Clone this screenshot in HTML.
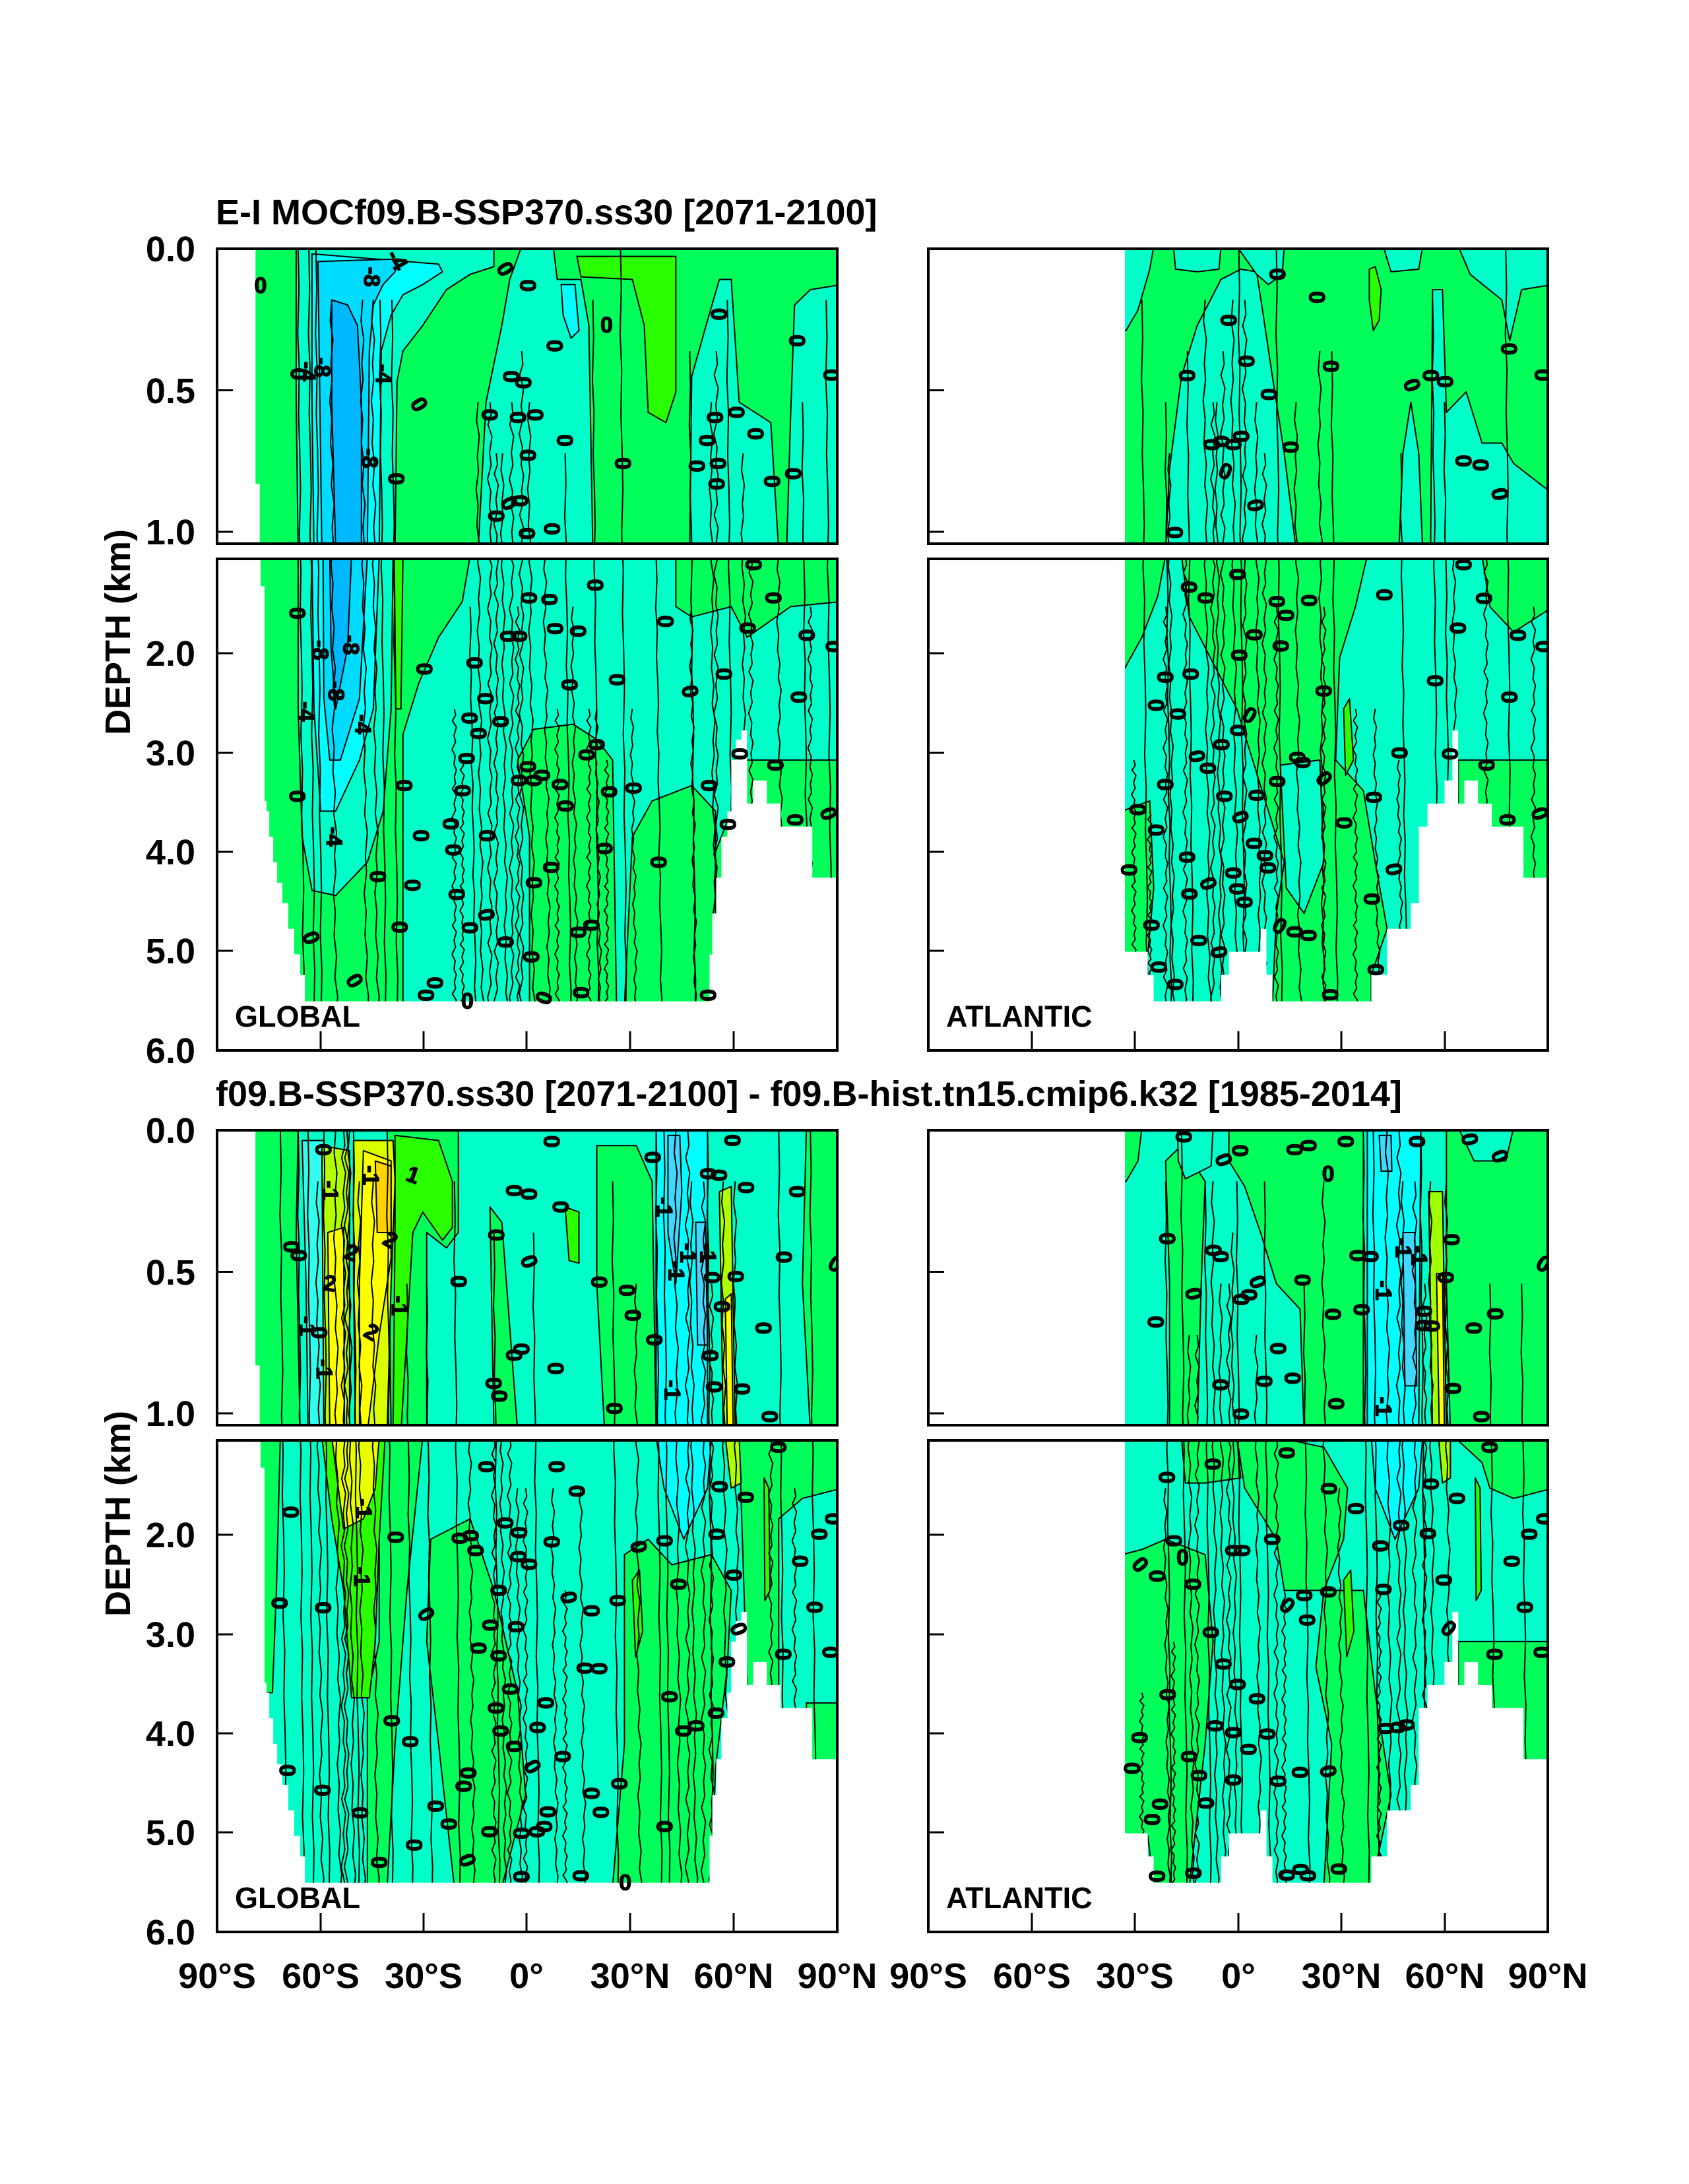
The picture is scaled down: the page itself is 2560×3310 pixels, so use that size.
<!DOCTYPE html>
<html><head><meta charset="utf-8">
<style>
html,body{margin:0;padding:0;background:#fff;width:2560px;height:3310px;overflow:hidden;}
svg{display:block}
.t{font-family:"Liberation Sans",Arial,sans-serif;font-weight:bold;fill:#000}
.z{font-family:"Liberation Sans",Arial,sans-serif;font-weight:bold;font-size:34px;text-anchor:middle;dominant-baseline:central;fill:#000;stroke:#000;stroke-width:1.3}
.p{stroke:#000;stroke-width:2;vector-effect:non-scaling-stroke;stroke-linejoin:round}
</style></head>
<body>
<svg width="2560" height="3310" viewBox="0 0 2560 3310" xmlns="http://www.w3.org/2000/svg">
<defs>
<clipPath id="cpG"><path d="M97,0 H1568 V577 H108 V460 H97 Z M110,606 H1568 V1230 H1505 V1130 H1425 V1085 H1390 V1040 H1355 V1085 H1340 V942 H1325 V960 H1312 V1000 H1300 V1100 H1290 V1150 H1275 V1230 H1262 V1300 H1252 V1380 H1245 V1472 H222 V1420 H210 V1380 H195 V1330 H180 V1280 H165 V1240 H152 V1200 H142 V1150 H132 V1100 H125 V1080 H120 V660 H110 Z"/></clipPath>
<clipPath id="cpA"><path d="M497,0 H1568 V577 H497 Z M497,606 H1568 V1230 H1505 V1130 H1425 V1085 H1390 V1040 H1355 V1085 H1340 V942 H1325 V1040 H1305 V1085 H1262 V1130 H1240 V1280 H1220 V1330 H1160 V1420 H1120 V1472 H870 V1420 H855 V1330 H840 V1375 H760 V1420 H740 V1472 H570 V1420 H555 V1375 H497 Z"/></clipPath>
<path id="zz1" fill="none" stroke="#000" stroke-width="2" vector-effect="non-scaling-stroke" d="M0,0l-4,45 7,40-5,50 3,35-6,45 5,40-3,50 6,45-4,45 7,40-5,50 3,35-6,45 5,40-3,50 6,45-4,45 7,40-5,50 3,35-6,45 5,40-3,50 6,45-4,45 7,40-5,50 3,35-6,45 5,40-3,50 6,45-4,45 7,40-5,50 3,35-1,30"/>
<path id="zz2" fill="none" stroke="#000" stroke-width="2" vector-effect="non-scaling-stroke" d="M0,0l3,30-8,25 10,30-6,40 4,30-9,35 8,30-3,40 6,25-5,35 3,30-8,25 10,30-6,40 4,30-9,35 8,30-3,40 6,25-5,35 3,30-8,25 10,30-6,40 4,30-9,35 8,30-3,40 6,25-5,35 3,30-8,25 10,30-6,40 4,30-9,35 8,30-3,40 6,25-5,35 3,30-8,25 10,30-6,40 4,30-9,35 8,30-3,40 6,25-5,35"/>
<path id="zz3" fill="none" stroke="#000" stroke-width="2" vector-effect="non-scaling-stroke" d="M0,0l2,80-3,90 4,70-2,90 3,70 2,80-3,90 4,70-2,90 3,70 2,80-3,90 4,70-2,90 3,70 2,80-3,90 4,70-2,90 3,70"/>
</defs>

<!-- ================= PANEL A : top-left GLOBAL ================= -->
<svg x="329" y="377" width="940" height="1215" viewBox="0 0 1568 1568" preserveAspectRatio="none">
<g clip-path="url(#cpG)">
<rect x="0" y="0" width="1568" height="1568" fill="#00ff5a"/>
<path class="p" fill="#00ffc8" d="M200,-5 L700,-5 L700,35 L640,50 L580,80 L520,150 L470,200 L455,260 L450,590 L205,590 L200,300 Z"/>
<path class="p" fill="#00ffff" d="M240,10 L560,30 L570,45 L520,70 L470,90 L440,130 L415,200 L410,590 L245,590 L240,300 Z"/>
<path class="p" fill="#00dcff" d="M255,25 L460,20 L450,45 L420,70 L395,110 L385,200 L380,590 L265,590 L260,300 Z"/>
<path class="p" fill="#00b8ff" d="M290,100 L330,110 L355,150 L365,300 L365,590 L300,590 L290,300 Z"/>
<path class="p" fill="#00ffc8" d="M660,590 L680,300 L720,150 L740,60 L770,-5 L850,-5 L860,60 L920,60 L940,150 L950,590 Z"/>
<path class="p" fill="#00ffff" d="M870,70 L905,70 L915,160 L895,175 L875,130 Z"/>
<path class="p" fill="#2aff00" d="M910,15 L1160,15 L1160,280 L1135,340 L1090,320 L1080,150 L1050,60 L920,55 Z"/>
<path class="p" fill="#00ffc8" d="M1195,590 L1200,250 L1240,140 L1270,60 L1300,60 L1320,300 L1400,340 L1420,590 Z"/>
<path class="p" fill="#00ffc8" d="M1440,590 L1450,330 L1460,110 L1500,80 L1580,70 L1580,590 Z"/>
<path class="p" fill="#00ffc8" d="M470,1480 L470,950 L510,850 L560,760 L620,690 L640,600 L1580,600 L1580,1000 L1420,1000 L1330,1000 L1300,1100 L1250,1200 L1250,1480 Z"/>
<path class="p" fill="#00ff5a" d="M790,1480 L790,1150 L760,1000 L800,940 L900,930 L960,960 L1000,1000 L1010,1480 Z"/>
<path class="p" fill="#00ff5a" d="M1030,1480 L1050,1150 L1100,1080 L1200,1050 L1260,1100 L1260,1480 Z"/>
<path class="p" fill="#00ff5a" d="M1160,600 L1580,600 L1580,690 L1450,700 L1340,760 L1300,700 L1200,720 L1160,700 Z"/>
<path class="p" fill="#00ffc8" d="M205,600 L445,600 L440,900 L420,1100 L380,1200 L300,1265 L240,1255 L215,1150 L205,900 Z"/>
<path class="p" fill="#00ffff" d="M240,600 L410,600 L395,900 L360,1000 L300,1100 L262,1100 L245,900 Z"/>
<path class="p" fill="#00dcff" d="M268,600 L380,600 L360,880 L312,1000 L285,1000 L270,880 Z"/>
<path class="p" fill="#00b8ff" d="M285,600 L340,600 L330,780 L300,900 L288,780 Z"/>
<path class="p" fill="#2aff00" d="M448,600 L470,600 L465,900 L452,900 Z"/>
<g transform="translate(0 0) scale(1 0.98)"><use href="#zz3" x="205"/><use href="#zz3" x="232"/><use href="#zz3" x="250"/><use href="#zz3" x="1020"/></g>
<g transform="translate(0 100) scale(1 0.9175)"><use href="#zz3" x="412"/><use href="#zz3" x="442"/><use href="#zz3" x="950"/><use href="#zz3" x="1290"/><use href="#zz3" x="1540"/><use href="#zz1" x="290"/><use href="#zz1" x="368"/><use href="#zz1" x="395"/></g>
<g transform="translate(0 200) scale(1 0.855)"><use href="#zz3" x="1195"/><use href="#zz2" x="770"/><use href="#zz2" x="1262"/></g>
<g transform="translate(0 300) scale(1 0.7925)"><use href="#zz3" x="1480"/><use href="#zz1" x="660"/><use href="#zz1" x="790"/><use href="#zz1" x="1250"/><use href="#zz2" x="690"/><use href="#zz2" x="745"/></g>
<g transform="translate(0 400) scale(1 0.73)"><use href="#zz3" x="880"/><use href="#zz1" x="722"/><use href="#zz1" x="1330"/><use href="#zz2" x="706"/></g>
<g transform="translate(0 600) scale(1 0.605)"><use href="#zz3" x="1110"/><use href="#zz1" x="830"/><use href="#zz1" x="1420"/><use href="#zz2" x="1350"/></g>
<g transform="translate(0 700) scale(1 0.5425)"><use href="#zz3" x="640"/><use href="#zz1" x="900"/><use href="#zz1" x="1200"/><use href="#zz2" x="760"/><use href="#zz2" x="1500"/></g>
<g transform="translate(0 900) scale(1 0.4175)"><use href="#zz1" x="960"/><use href="#zz1" x="1050"/><use href="#zz2" x="600"/><use href="#zz2" x="860"/><use href="#zz2" x="940"/></g>
<g transform="translate(0 1000) scale(1 0.355)"><use href="#zz2" x="620"/><use href="#zz2" x="985"/></g>
</g>
<g class="z">
<text transform="translate(110 72)scale(1.668 1.29)">0</text>
<text transform="translate(728 40)scale(1.668 1.29)rotate(60)">0</text>
<text transform="translate(785 72)scale(1.668 1.29)rotate(90)">0</text>
<text transform="translate(852 190)scale(1.668 1.29)rotate(90)">0</text>
<text transform="translate(985 150)scale(1.668 1.29)">0</text>
<text transform="translate(1268 128)scale(1.668 1.29)rotate(90)">0</text>
<text transform="translate(1465 180)scale(1.668 1.29)rotate(90)">0</text>
<text transform="translate(1552 247)scale(1.668 1.29)rotate(90)">0</text>
<text transform="translate(742 250)scale(1.668 1.29)rotate(90)">0</text>
<text transform="translate(773 262)scale(1.668 1.29)rotate(90)">0</text>
<text transform="translate(510 305)scale(1.668 1.29)rotate(60)">0</text>
<text transform="translate(688 325)scale(1.668 1.29)rotate(90)">0</text>
<text transform="translate(760 330)scale(1.668 1.29)rotate(90)">0</text>
<text transform="translate(803 325)scale(1.668 1.29)rotate(90)">0</text>
<text transform="translate(878 375)scale(1.668 1.29)rotate(90)">0</text>
<text transform="translate(785 404)scale(1.668 1.29)rotate(90)">0</text>
<text transform="translate(1025 420)scale(1.668 1.29)rotate(90)">0</text>
<text transform="translate(1212 425)scale(1.668 1.29)rotate(90)">0</text>
<text transform="translate(1265 420)scale(1.668 1.29)rotate(90)">0</text>
<text transform="translate(1262 460)scale(1.668 1.29)rotate(90)">0</text>
<text transform="translate(1238 375)scale(1.668 1.29)rotate(90)">0</text>
<text transform="translate(1258 330)scale(1.668 1.29)rotate(90)">0</text>
<text transform="translate(1312 320)scale(1.668 1.29)rotate(90)">0</text>
<text transform="translate(1360 362)scale(1.668 1.29)rotate(90)">0</text>
<text transform="translate(1402 455)scale(1.668 1.29)rotate(90)">0</text>
<text transform="translate(1455 440)scale(1.668 1.29)rotate(90)">0</text>
<text transform="translate(452 450)scale(1.668 1.29)rotate(90)">0</text>
<text transform="translate(705 523)scale(1.668 1.29)rotate(90)">0</text>
<text transform="translate(738 498)scale(1.668 1.29)rotate(60)">0</text>
<text transform="translate(765 493)scale(1.668 1.29)rotate(90)">0</text>
<text transform="translate(782 557)scale(1.668 1.29)rotate(90)">0</text>
<text transform="translate(846 548)scale(1.668 1.29)rotate(90)">0</text>
<text transform="translate(205 245)scale(1.668 1.29)rotate(90)">0</text>
<text transform="translate(455 22)scale(1.668 1.29)rotate(60)">-4</text>
<text transform="translate(390 55)scale(1.668 1.29)rotate(90)">-8</text>
<text transform="translate(228 240)scale(1.668 1.29)rotate(90)">-4</text>
<text transform="translate(265 232)scale(1.668 1.29)rotate(90)">-8</text>
<text transform="translate(420 245)scale(1.668 1.29)rotate(90)">-4</text>
<text transform="translate(385 410)scale(1.668 1.29)rotate(90)">-8</text>
<text transform="translate(260 785)scale(1.668 1.29)rotate(90)">-8</text>
<text transform="translate(338 775)scale(1.668 1.29)rotate(90)">-8</text>
<text transform="translate(300 865)scale(1.668 1.29)rotate(90)">-8</text>
<text transform="translate(225 905)scale(1.668 1.29)rotate(90)">-4</text>
<text transform="translate(368 930)scale(1.668 1.29)rotate(90)">-4</text>
<text transform="translate(295 1150)scale(1.668 1.29)rotate(90)">-4</text>
<text transform="translate(1355 618)scale(1.668 1.29)rotate(90)">0</text>
<text transform="translate(955 658)scale(1.668 1.29)rotate(90)">0</text>
<text transform="translate(787 683)scale(1.668 1.29)rotate(90)">0</text>
<text transform="translate(839 686)scale(1.668 1.29)rotate(90)">0</text>
<text transform="translate(1405 683)scale(1.668 1.29)rotate(90)">0</text>
<text transform="translate(1133 729)scale(1.668 1.29)rotate(90)">0</text>
<text transform="translate(1340 742)scale(1.668 1.29)rotate(90)">0</text>
<text transform="translate(853 743)scale(1.668 1.29)rotate(90)">0</text>
<text transform="translate(912 748)scale(1.668 1.29)rotate(90)">0</text>
<text transform="translate(735 758)scale(1.668 1.29)rotate(90)">0</text>
<text transform="translate(762 758)scale(1.668 1.29)rotate(90)">0</text>
<text transform="translate(1490 756)scale(1.668 1.29)rotate(90)">0</text>
<text transform="translate(1558 778)scale(1.668 1.29)rotate(90)">0</text>
<text transform="translate(202 713)scale(1.668 1.29)rotate(90)">0</text>
<text transform="translate(523 822)scale(1.668 1.29)rotate(90)">0</text>
<text transform="translate(650 810)scale(1.668 1.29)rotate(90)">0</text>
<text transform="translate(1280 832)scale(1.668 1.29)rotate(90)">0</text>
<text transform="translate(1010 843)scale(1.668 1.29)rotate(90)">0</text>
<text transform="translate(890 853)scale(1.668 1.29)rotate(90)">0</text>
<text transform="translate(1195 866)scale(1.668 1.29)rotate(80)">0</text>
<text transform="translate(1470 877)scale(1.668 1.29)rotate(90)">0</text>
<text transform="translate(677 880)scale(1.668 1.29)rotate(90)">0</text>
<text transform="translate(637 918)scale(1.668 1.29)rotate(90)">0</text>
<text transform="translate(716 925)scale(1.668 1.29)rotate(90)">0</text>
<text transform="translate(660 948)scale(1.668 1.29)rotate(90)">0</text>
<text transform="translate(958 970)scale(1.668 1.29)rotate(90)">0</text>
<text transform="translate(933 990)scale(1.668 1.29)rotate(90)">0</text>
<text transform="translate(630 997)scale(1.668 1.29)rotate(90)">0</text>
<text transform="translate(1320 988)scale(1.668 1.29)rotate(90)">0</text>
<text transform="translate(1410 1010)scale(1.668 1.29)rotate(90)">0</text>
<text transform="translate(785 1013)scale(1.668 1.29)rotate(90)">0</text>
<text transform="translate(820 1030)scale(1.668 1.29)rotate(90)">0</text>
<text transform="translate(762 1040)scale(1.668 1.29)rotate(90)">0</text>
<text transform="translate(800 1040)scale(1.668 1.29)rotate(90)">0</text>
<text transform="translate(866 1048)scale(1.668 1.29)rotate(90)">0</text>
<text transform="translate(990 1062)scale(1.668 1.29)rotate(90)">0</text>
<text transform="translate(1052 1055)scale(1.668 1.29)rotate(90)">0</text>
<text transform="translate(1243 1050)scale(1.668 1.29)rotate(90)">0</text>
<text transform="translate(472 1050)scale(1.668 1.29)rotate(90)">0</text>
<text transform="translate(620 1060)scale(1.668 1.29)rotate(90)">0</text>
<text transform="translate(202 1071)scale(1.668 1.29)rotate(90)">0</text>
<text transform="translate(880 1090)scale(1.668 1.29)rotate(90)">0</text>
<text transform="translate(1460 1117)scale(1.668 1.29)rotate(90)">0</text>
<text transform="translate(1545 1105)scale(1.668 1.29)rotate(70)">0</text>
<text transform="translate(1290 1126)scale(1.668 1.29)rotate(90)">0</text>
<text transform="translate(590 1125)scale(1.668 1.29)rotate(90)">0</text>
<text transform="translate(515 1148)scale(1.668 1.29)rotate(90)">0</text>
<text transform="translate(681 1148)scale(1.668 1.29)rotate(90)">0</text>
<text transform="translate(596 1176)scale(1.668 1.29)rotate(90)">0</text>
<text transform="translate(978 1173)scale(1.668 1.29)rotate(90)">0</text>
<text transform="translate(1115 1200)scale(1.668 1.29)rotate(90)">0</text>
<text transform="translate(843 1210)scale(1.668 1.29)rotate(90)">0</text>
<text transform="translate(405 1228)scale(1.668 1.29)rotate(90)">0</text>
<text transform="translate(493 1245)scale(1.668 1.29)rotate(90)">0</text>
<text transform="translate(800 1240)scale(1.668 1.29)rotate(90)">0</text>
<text transform="translate(605 1263)scale(1.668 1.29)rotate(90)">0</text>
<text transform="translate(680 1303)scale(1.668 1.29)rotate(80)">0</text>
<text transform="translate(638 1328)scale(1.668 1.29)rotate(90)">0</text>
<text transform="translate(460 1327)scale(1.668 1.29)rotate(90)">0</text>
<text transform="translate(945 1323)scale(1.668 1.29)rotate(90)">0</text>
<text transform="translate(912 1337)scale(1.668 1.29)rotate(90)">0</text>
<text transform="translate(728 1356)scale(1.668 1.29)rotate(90)">0</text>
<text transform="translate(793 1385)scale(1.668 1.29)rotate(90)">0</text>
<text transform="translate(237 1348)scale(1.668 1.29)rotate(70)">0</text>
<text transform="translate(347 1432)scale(1.668 1.29)rotate(60)">0</text>
<text transform="translate(550 1436)scale(1.668 1.29)rotate(90)">0</text>
<text transform="translate(527 1460)scale(1.668 1.29)rotate(90)">0</text>
<text transform="translate(825 1465)scale(1.668 1.29)rotate(110)">0</text>
<text transform="translate(919 1455)scale(1.668 1.29)rotate(90)">0</text>
<text transform="translate(1240 1460)scale(1.668 1.29)rotate(90)">0</text>
<text transform="translate(633 1472)scale(1.668 1.29)">0</text>
</g>
</svg>

<!-- ================= PANEL B : top-right ATLANTIC ================= -->
<svg x="1407" y="377" width="940" height="1215" viewBox="0 0 1568 1568" preserveAspectRatio="none">
<g clip-path="url(#cpA)">
<rect x="0" y="0" width="1568" height="1568" fill="#00ff5a"/>
<path class="p" fill="#00ffc8" d="M490,-5 L570,-5 L560,40 L530,120 L500,160 L490,160 Z"/>
<path class="p" fill="#00ffc8" d="M600,590 L610,430 L640,250 L680,150 L740,60 L790,40 L830,45 L845,120 L870,250 L900,400 L930,590 Z"/>
<path class="p" fill="#00ffc8" d="M620,-5 L740,-5 L735,40 L680,45 L625,40 Z"/>
<path class="p" fill="#00ffc8" d="M780,-5 L900,-5 L895,50 L860,70 L830,50 Z"/>
<path class="p" fill="#00ffc8" d="M1150,-5 L1250,-5 L1240,40 L1170,45 Z"/>
<path class="p" fill="#00ffc8" d="M1190,590 L1200,400 L1220,300 L1240,400 L1250,590 Z"/>
<path class="p" fill="#00ffc8" d="M1270,590 L1275,80 L1300,80 L1310,320 L1360,280 L1400,380 L1450,380 L1480,420 L1580,480 L1580,590 Z"/>
<path class="p" fill="#00ffc8" d="M1340,-5 L1580,-5 L1580,70 L1500,80 L1470,180 L1450,100 L1370,50 Z"/>
<path class="p" fill="#2aff00" d="M1115,40 L1130,35 L1145,80 L1140,140 L1125,160 L1115,100 Z"/>
<rect x="0" y="600" width="1568" height="968" fill="#00ffc8"/>
<path class="p" fill="#00ff5a" d="M490,600 L600,600 L580,680 L540,760 L490,830 Z"/>
<path class="p" fill="#00ff5a" d="M640,600 L1110,600 L1080,700 L1040,800 L1030,1000 L1100,1060 L1130,1200 L1160,1330 L1120,1420 L1120,1480 L870,1480 L880,1300 L900,1200 L860,1100 L820,1000 L780,900 L700,780 L660,720 Z"/>
<path class="p" fill="#00ffc8" d="M890,1010 L990,1000 L1000,1200 L950,1300 L905,1250 Z"/>
<path class="p" fill="#00ff5a" d="M490,1100 L560,1080 L570,1250 L555,1380 L490,1380 Z"/>
<path class="p" fill="#00ff5a" d="M1400,600 L1580,600 L1580,700 L1480,750 L1420,700 Z"/>
<path class="p" fill="#00ff5a" d="M1340,1000 L1580,1000 L1580,1240 L1340,1240 Z"/>
<path class="p" fill="#2aff00" d="M1050,900 L1065,880 L1075,1000 L1055,1030 Z"/>
<g transform="translate(0 0) scale(1 0.98)"><use href="#zz3" x="785"/><use href="#zz3" x="880"/><use href="#zz3" x="1460"/></g>
<g transform="translate(0 100) scale(1 0.9175)"><use href="#zz3" x="540"/><use href="#zz3" x="1275"/><use href="#zz1" x="700"/><use href="#zz1" x="770"/><use href="#zz2" x="800"/></g>
<g transform="translate(0 200) scale(1 0.855)"><use href="#zz3" x="655"/><use href="#zz3" x="1020"/><use href="#zz1" x="990"/><use href="#zz2" x="745"/></g>
<g transform="translate(0 300) scale(1 0.7925)"><use href="#zz3" x="600"/><use href="#zz3" x="1305"/><use href="#zz1" x="730"/><use href="#zz1" x="830"/><use href="#zz1" x="930"/><use href="#zz2" x="720"/></g>
<g transform="translate(0 400) scale(1 0.73)"><use href="#zz3" x="1195"/><use href="#zz1" x="610"/><use href="#zz2" x="850"/></g>
<g transform="translate(0 600) scale(1 0.605)"><use href="#zz1" x="1330"/><use href="#zz2" x="650"/><use href="#zz2" x="1410"/></g>
<g transform="translate(0 700) scale(1 0.5425)"><use href="#zz2" x="600"/><use href="#zz2" x="880"/><use href="#zz2" x="1000"/><use href="#zz2" x="1530"/></g>
<g transform="translate(0 900) scale(1 0.4175)"><use href="#zz1" x="1130"/><use href="#zz2" x="1080"/></g>
<g transform="translate(0 1000) scale(1 0.355)"><use href="#zz1" x="1190"/><use href="#zz2" x="520"/></g>
<g transform="translate(0 1100) scale(1 0.2925)"><use href="#zz2" x="560"/></g>
</g>
<g class="z">
<text transform="translate(882 50)scale(1.668 1.29)rotate(90)">0</text>
<text transform="translate(982 95)scale(1.668 1.29)rotate(90)">0</text>
<text transform="translate(758 140)scale(1.668 1.29)rotate(90)">0</text>
<text transform="translate(803 220)scale(1.668 1.29)rotate(90)">0</text>
<text transform="translate(1017 230)scale(1.668 1.29)rotate(90)">0</text>
<text transform="translate(653 248)scale(1.668 1.29)rotate(90)">0</text>
<text transform="translate(1269 248)scale(1.668 1.29)rotate(90)">0</text>
<text transform="translate(1305 260)scale(1.668 1.29)rotate(90)">0</text>
<text transform="translate(1222 267)scale(1.668 1.29)rotate(70)">0</text>
<text transform="translate(1467 196)scale(1.668 1.29)rotate(90)">0</text>
<text transform="translate(1552 247)scale(1.668 1.29)rotate(90)">0</text>
<text transform="translate(860 285)scale(1.668 1.29)rotate(90)">0</text>
<text transform="translate(716 383)scale(1.668 1.29)rotate(90)">0</text>
<text transform="translate(740 377)scale(1.668 1.29)rotate(90)">0</text>
<text transform="translate(770 383)scale(1.668 1.29)rotate(90)">0</text>
<text transform="translate(790 367)scale(1.668 1.29)rotate(90)">0</text>
<text transform="translate(915 388)scale(1.668 1.29)rotate(90)">0</text>
<text transform="translate(751 436)scale(1.668 1.29)rotate(20)">0</text>
<text transform="translate(1352 415)scale(1.668 1.29)rotate(90)">0</text>
<text transform="translate(1395 423)scale(1.668 1.29)rotate(90)">0</text>
<text transform="translate(1444 480)scale(1.668 1.29)rotate(80)">0</text>
<text transform="translate(826 502)scale(1.668 1.29)rotate(80)">0</text>
<text transform="translate(622 555)scale(1.668 1.29)rotate(90)">0</text>
<text transform="translate(1352 618)scale(1.668 1.29)rotate(90)">0</text>
<text transform="translate(781 637)scale(1.668 1.29)rotate(90)">0</text>
<text transform="translate(658 662)scale(1.668 1.29)rotate(90)">0</text>
<text transform="translate(700 683)scale(1.668 1.29)rotate(90)">0</text>
<text transform="translate(880 690)scale(1.668 1.29)rotate(90)">0</text>
<text transform="translate(962 688)scale(1.668 1.29)rotate(90)">0</text>
<text transform="translate(1152 677)scale(1.668 1.29)rotate(90)">0</text>
<text transform="translate(1404 684)scale(1.668 1.29)rotate(90)">0</text>
<text transform="translate(903 717)scale(1.668 1.29)rotate(90)">0</text>
<text transform="translate(823 755)scale(1.668 1.29)rotate(90)">0</text>
<text transform="translate(1338 742)scale(1.668 1.29)rotate(90)">0</text>
<text transform="translate(1490 756)scale(1.668 1.29)rotate(90)">0</text>
<text transform="translate(1555 778)scale(1.668 1.29)rotate(90)">0</text>
<text transform="translate(890 777)scale(1.668 1.29)rotate(90)">0</text>
<text transform="translate(785 795)scale(1.668 1.29)rotate(90)">0</text>
<text transform="translate(598 838)scale(1.668 1.29)rotate(90)">0</text>
<text transform="translate(662 832)scale(1.668 1.29)rotate(90)">0</text>
<text transform="translate(1280 845)scale(1.668 1.29)rotate(90)">0</text>
<text transform="translate(998 865)scale(1.668 1.29)rotate(90)">0</text>
<text transform="translate(575 893)scale(1.668 1.29)rotate(90)">0</text>
<text transform="translate(630 910)scale(1.668 1.29)rotate(90)">0</text>
<text transform="translate(812 913)scale(1.668 1.29)rotate(30)">0</text>
<text transform="translate(1468 877)scale(1.668 1.29)rotate(90)">0</text>
<text transform="translate(782 942)scale(1.668 1.29)rotate(90)">0</text>
<text transform="translate(740 970)scale(1.668 1.29)rotate(90)">0</text>
<text transform="translate(1190 986)scale(1.668 1.29)rotate(90)">0</text>
<text transform="translate(1318 988)scale(1.668 1.29)rotate(90)">0</text>
<text transform="translate(678 993)scale(1.668 1.29)rotate(80)">0</text>
<text transform="translate(932 995)scale(1.668 1.29)rotate(90)">0</text>
<text transform="translate(945 1005)scale(1.668 1.29)rotate(90)">0</text>
<text transform="translate(706 1016)scale(1.668 1.29)rotate(90)">0</text>
<text transform="translate(1410 1010)scale(1.668 1.29)rotate(90)">0</text>
<text transform="translate(1000 1037)scale(1.668 1.29)rotate(50)">0</text>
<text transform="translate(598 1048)scale(1.668 1.29)rotate(90)">0</text>
<text transform="translate(881 1042)scale(1.668 1.29)rotate(90)">0</text>
<text transform="translate(747 1071)scale(1.668 1.29)rotate(90)">0</text>
<text transform="translate(829 1069)scale(1.668 1.29)rotate(90)">0</text>
<text transform="translate(1125 1073)scale(1.668 1.29)rotate(90)">0</text>
<text transform="translate(788 1112)scale(1.668 1.29)rotate(70)">0</text>
<text transform="translate(1050 1123)scale(1.668 1.29)rotate(90)">0</text>
<text transform="translate(1463 1117)scale(1.668 1.29)rotate(90)">0</text>
<text transform="translate(1545 1105)scale(1.668 1.29)rotate(70)">0</text>
<text transform="translate(528 1097)scale(1.668 1.29)rotate(90)">0</text>
<text transform="translate(575 1137)scale(1.668 1.29)rotate(90)">0</text>
<text transform="translate(822 1163)scale(1.668 1.29)rotate(90)">0</text>
<text transform="translate(850 1187)scale(1.668 1.29)rotate(90)">0</text>
<text transform="translate(1176 1214)scale(1.668 1.29)rotate(80)">0</text>
<text transform="translate(653 1190)scale(1.668 1.29)rotate(90)">0</text>
<text transform="translate(506 1215)scale(1.668 1.29)rotate(90)">0</text>
<text transform="translate(770 1221)scale(1.668 1.29)rotate(90)">0</text>
<text transform="translate(857 1211)scale(1.668 1.29)rotate(90)">0</text>
<text transform="translate(707 1242)scale(1.668 1.29)rotate(70)">0</text>
<text transform="translate(780 1252)scale(1.668 1.29)rotate(90)">0</text>
<text transform="translate(659 1262)scale(1.668 1.29)rotate(90)">0</text>
<text transform="translate(1120 1272)scale(1.668 1.29)rotate(90)">0</text>
<text transform="translate(798 1278)scale(1.668 1.29)rotate(90)">0</text>
<text transform="translate(888 1325)scale(1.668 1.29)rotate(30)">0</text>
<text transform="translate(925 1336)scale(1.668 1.29)rotate(90)">0</text>
<text transform="translate(960 1343)scale(1.668 1.29)rotate(90)">0</text>
<text transform="translate(563 1323)scale(1.668 1.29)rotate(90)">0</text>
<text transform="translate(682 1353)scale(1.668 1.29)rotate(90)">0</text>
<text transform="translate(734 1376)scale(1.668 1.29)rotate(80)">0</text>
<text transform="translate(581 1405)scale(1.668 1.29)rotate(90)">0</text>
<text transform="translate(623 1439)scale(1.668 1.29)rotate(90)">0</text>
<text transform="translate(1130 1410)scale(1.668 1.29)rotate(90)">0</text>
<text transform="translate(1015 1459)scale(1.668 1.29)rotate(90)">0</text>
</g>
</svg>

<!-- ================= PANEL C : bottom-left GLOBAL diff ================= -->
<svg x="329" y="1713" width="940" height="1215" viewBox="0 0 1568 1568" preserveAspectRatio="none">
<g clip-path="url(#cpG)">
<rect x="0" y="0" width="1568" height="1568" fill="#00ffc8"/>
<path class="p" fill="#00ff5a" d="M90,-5 L205,-5 L200,200 L210,590 L90,590 Z"/>
<path class="p" fill="#00ff5a" d="M430,-5 L610,-5 L610,200 L580,230 L530,200 L530,590 L440,590 Z"/>
<path class="p" fill="#2aff00" d="M450,10 L560,20 L595,100 L595,190 L570,215 L520,160 L495,200 L480,400 L465,590 L445,590 L450,200 Z"/>
<path class="p" fill="#30ffee" d="M215,20 L270,20 L270,590 L230,590 L225,300 Z"/>
<path class="p" fill="#b4ff00" d="M265,30 L335,40 L335,590 L270,590 Z"/>
<path class="p" fill="#ffff00" d="M280,200 L320,190 L322,590 L285,590 Z"/>
<path class="p" fill="#dcff00" d="M345,20 L445,20 L450,100 L440,300 L430,590 L350,590 L345,300 Z"/>
<path class="p" fill="#ffff00" d="M370,40 L440,60 L440,250 L410,400 L380,590 L360,590 L360,300 Z"/>
<path class="p" fill="#ffd200" d="M400,60 L440,70 L440,200 L405,200 Z"/>
<path class="p" fill="#00ff5a" d="M690,150 L720,180 L760,590 L700,590 Z"/>
<path class="p" fill="#2aff00" d="M880,150 L915,160 L915,260 L890,255 Z"/>
<path class="p" fill="#00ff5a" d="M960,30 L1060,30 L1100,100 L1110,590 L980,590 L960,300 Z"/>
<path class="p" fill="#00ffff" d="M1110,-5 L1240,-5 L1240,590 L1110,590 Z"/>
<path class="p" fill="#40d8ff" d="M1140,10 L1170,10 L1175,120 L1160,300 L1140,200 Z"/>
<path class="p" fill="#40d8ff" d="M1210,180 L1235,180 L1240,420 L1215,420 Z"/>
<path class="p" fill="#b0ff00" d="M1270,120 L1300,110 L1310,590 L1280,590 Z"/>
<path class="p" fill="#ffff00" d="M1285,330 L1300,320 L1305,590 L1290,590 Z"/>
<path class="p" fill="#00ff5a" d="M1490,-5 L1580,-5 L1580,590 L1500,590 L1480,300 Z"/>
<path class="p" fill="#00ff5a" d="M90,600 L160,600 L150,900 L140,1100 L90,1100 Z"/>
<path class="p" fill="#00ff5a" d="M410,600 L520,600 L480,900 L450,1200 L430,1480 L380,1480 L380,1110 L410,1000 Z"/>
<path class="p" fill="#2aff00" d="M265,600 L425,600 L410,800 L400,1000 L385,1110 L340,1110 L320,900 L290,760 Z"/>
<path class="p" fill="#e8ff00" d="M290,600 L410,600 L400,700 L370,760 L320,780 Z"/>
<path class="p" fill="#00ff5a" d="M540,800 L640,760 L700,900 L760,1100 L780,1300 L720,1480 L600,1480 L560,1200 L530,1000 Z"/>
<path class="p" fill="#00ff5a" d="M1030,830 L1090,800 L1150,850 L1250,830 L1300,900 L1290,1050 L1260,1250 L1250,1480 L1000,1480 L1030,1200 Z"/>
<path class="p" fill="#00ffff" d="M1110,600 L1250,600 L1240,700 L1180,800 L1130,700 Z"/>
<path class="p" fill="#00ff5a" d="M1320,600 L1580,600 L1580,700 L1480,720 L1420,760 L1420,1090 L1340,1090 Z"/>
<path class="p" fill="#b0ff00" d="M1285,600 L1320,600 L1325,690 L1300,700 Z"/>
<path class="p" fill="#00ff5a" d="M1490,1120 L1580,1120 L1580,1240 L1490,1240 Z"/>
<path class="p" fill="#2aff00" d="M1050,880 L1068,860 L1076,980 L1058,1030 Z"/>
<path class="p" fill="#2aff00" d="M1383,680 L1395,700 L1398,900 L1385,920 Z"/>
<g transform="translate(0 0) scale(1 0.98)"><use href="#zz3" x="160"/><use href="#zz3" x="205"/><use href="#zz3" x="230"/><use href="#zz3" x="270"/><use href="#zz3" x="345"/><use href="#zz3" x="430"/><use href="#zz3" x="1110"/><use href="#zz3" x="1130"/><use href="#zz3" x="1240"/><use href="#zz3" x="1420"/><use href="#zz3" x="1500"/><use href="#zz1" x="300"/><use href="#zz1" x="335"/><use href="#zz1" x="1160"/><use href="#zz2" x="320"/><use href="#zz2" x="328"/><use href="#zz2" x="1190"/></g>
<g transform="translate(0 100) scale(1 0.9175)"><use href="#zz3" x="600"/><use href="#zz3" x="1000"/><use href="#zz1" x="255"/><use href="#zz1" x="360"/><use href="#zz1" x="395"/><use href="#zz1" x="1200"/><use href="#zz1" x="1280"/><use href="#zz1" x="1310"/><use href="#zz2" x="1230"/></g>
<g transform="translate(0 200) scale(1 0.855)"><use href="#zz3" x="700"/><use href="#zz3" x="800"/></g>
<g transform="translate(0 300) scale(1 0.7925)"><use href="#zz3" x="480"/><use href="#zz3" x="530"/><use href="#zz1" x="1060"/><use href="#zz2" x="1250"/></g>
<g transform="translate(0 600) scale(1 0.605)"><use href="#zz1" x="640"/><use href="#zz1" x="720"/><use href="#zz2" x="700"/><use href="#zz2" x="740"/><use href="#zz2" x="1400"/></g>
<g transform="translate(0 700) scale(1 0.5425)"><use href="#zz1" x="760"/><use href="#zz1" x="850"/><use href="#zz1" x="920"/><use href="#zz2" x="780"/><use href="#zz2" x="1460"/></g>
<g transform="translate(0 900) scale(1 0.4175)"><use href="#zz2" x="880"/></g>
</g>
<g class="z">
<text transform="translate(268 38)scale(1.668 1.29)rotate(90)">0</text>
<text transform="translate(845 22)scale(1.668 1.29)rotate(90)">0</text>
<text transform="translate(1302 20)scale(1.668 1.29)rotate(90)">0</text>
<text transform="translate(1100 53)scale(1.668 1.29)rotate(90)">0</text>
<text transform="translate(1240 85)scale(1.668 1.29)rotate(90)">0</text>
<text transform="translate(1268 88)scale(1.668 1.29)rotate(90)">0</text>
<text transform="translate(1336 112)scale(1.668 1.29)rotate(90)">0</text>
<text transform="translate(1465 120)scale(1.668 1.29)rotate(90)">0</text>
<text transform="translate(750 118)scale(1.668 1.29)rotate(90)">0</text>
<text transform="translate(787 125)scale(1.668 1.29)rotate(90)">0</text>
<text transform="translate(867 150)scale(1.668 1.29)rotate(90)">0</text>
<text transform="translate(705 205)scale(1.668 1.29)rotate(90)">0</text>
<text transform="translate(187 228)scale(1.668 1.29)rotate(90)">0</text>
<text transform="translate(205 245)scale(1.668 1.29)rotate(90)">0</text>
<text transform="translate(788 257)scale(1.668 1.29)rotate(70)">0</text>
<text transform="translate(1432 248)scale(1.668 1.29)rotate(90)">0</text>
<text transform="translate(1563 262)scale(1.668 1.29)rotate(30)">0</text>
<text transform="translate(610 296)scale(1.668 1.29)rotate(90)">0</text>
<text transform="translate(965 297)scale(1.668 1.29)rotate(90)">0</text>
<text transform="translate(1035 313)scale(1.668 1.29)rotate(90)">0</text>
<text transform="translate(1250 288)scale(1.668 1.29)rotate(90)">0</text>
<text transform="translate(1310 286)scale(1.668 1.29)rotate(90)">0</text>
<text transform="translate(1275 345)scale(1.668 1.29)rotate(90)">0</text>
<text transform="translate(1050 362)scale(1.668 1.29)rotate(90)">0</text>
<text transform="translate(1380 387)scale(1.668 1.29)rotate(90)">0</text>
<text transform="translate(257 396)scale(1.668 1.29)rotate(90)">0</text>
<text transform="translate(1104 410)scale(1.668 1.29)rotate(90)">0</text>
<text transform="translate(768 428)scale(1.668 1.29)rotate(90)">0</text>
<text transform="translate(750 440)scale(1.668 1.29)rotate(90)">0</text>
<text transform="translate(855 466)scale(1.668 1.29)rotate(90)">0</text>
<text transform="translate(1246 441)scale(1.668 1.29)rotate(90)">0</text>
<text transform="translate(698 495)scale(1.668 1.29)rotate(90)">0</text>
<text transform="translate(712 520)scale(1.668 1.29)rotate(90)">0</text>
<text transform="translate(1255 502)scale(1.668 1.29)rotate(90)">0</text>
<text transform="translate(1326 506)scale(1.668 1.29)rotate(90)">0</text>
<text transform="translate(1003 544)scale(1.668 1.29)rotate(90)">0</text>
<text transform="translate(1396 560)scale(1.668 1.29)rotate(90)">0</text>
<text transform="translate(438 215)scale(1.668 1.29)rotate(30)">2</text>
<text transform="translate(390 395)scale(1.668 1.29)rotate(30)">2</text>
<text transform="translate(285 300)scale(1.668 1.29)rotate(10)">2</text>
<text transform="translate(340 240)scale(1.668 1.29)rotate(20)">2</text>
<text transform="translate(495 88)scale(1.668 1.29)rotate(20)">1</text>
<text transform="translate(388 88)scale(1.668 1.29)rotate(90)">-1</text>
<text transform="translate(285 118)scale(1.668 1.29)rotate(90)">-1</text>
<text transform="translate(228 383)scale(1.668 1.29)rotate(90)">-1</text>
<text transform="translate(270 467)scale(1.668 1.29)rotate(90)">-1</text>
<text transform="translate(460 343)scale(1.668 1.29)rotate(90)">-1</text>
<text transform="translate(1130 150)scale(1.668 1.29)rotate(90)">-1</text>
<text transform="translate(1190 240)scale(1.668 1.29)rotate(90)">-1</text>
<text transform="translate(1240 240)scale(1.668 1.29)rotate(90)">-1</text>
<text transform="translate(1160 275)scale(1.668 1.29)rotate(90)">-1</text>
<text transform="translate(1150 508)scale(1.668 1.29)rotate(90)">-1</text>
<text transform="translate(370 740)scale(1.668 1.29)rotate(90)">-1</text>
<text transform="translate(365 873)scale(1.668 1.29)rotate(90)">-1</text>
<text transform="translate(1418 620)scale(1.668 1.29)rotate(90)">0</text>
<text transform="translate(680 658)scale(1.668 1.29)rotate(90)">0</text>
<text transform="translate(857 658)scale(1.668 1.29)rotate(90)">0</text>
<text transform="translate(908 706)scale(1.668 1.29)rotate(90)">0</text>
<text transform="translate(1269 697)scale(1.668 1.29)rotate(90)">0</text>
<text transform="translate(1335 718)scale(1.668 1.29)rotate(90)">0</text>
<text transform="translate(185 747)scale(1.668 1.29)rotate(90)">0</text>
<text transform="translate(727 768)scale(1.668 1.29)rotate(90)">0</text>
<text transform="translate(1521 790)scale(1.668 1.29)rotate(90)">0</text>
<text transform="translate(612 798)scale(1.668 1.29)rotate(90)">0</text>
<text transform="translate(640 793)scale(1.668 1.29)rotate(90)">0</text>
<text transform="translate(762 787)scale(1.668 1.29)rotate(90)">0</text>
<text transform="translate(450 796)scale(1.668 1.29)rotate(90)">0</text>
<text transform="translate(1262 790)scale(1.668 1.29)rotate(90)">0</text>
<text transform="translate(1556 760)scale(1.668 1.29)rotate(90)">0</text>
<text transform="translate(845 805)scale(1.668 1.29)rotate(90)">0</text>
<text transform="translate(1130 803)scale(1.668 1.29)rotate(90)">0</text>
<text transform="translate(1065 815)scale(1.668 1.29)rotate(80)">0</text>
<text transform="translate(652 822)scale(1.668 1.29)rotate(90)">0</text>
<text transform="translate(761 834)scale(1.668 1.29)rotate(90)">0</text>
<text transform="translate(787 849)scale(1.668 1.29)rotate(90)">0</text>
<text transform="translate(1473 843)scale(1.668 1.29)rotate(90)">0</text>
<text transform="translate(1305 870)scale(1.668 1.29)rotate(90)">0</text>
<text transform="translate(1165 888)scale(1.668 1.29)rotate(90)">0</text>
<text transform="translate(711 900)scale(1.668 1.29)rotate(90)">0</text>
<text transform="translate(888 914)scale(1.668 1.29)rotate(80)">0</text>
<text transform="translate(1012 920)scale(1.668 1.29)rotate(90)">0</text>
<text transform="translate(157 925)scale(1.668 1.29)rotate(90)">0</text>
<text transform="translate(267 934)scale(1.668 1.29)rotate(90)">0</text>
<text transform="translate(528 947)scale(1.668 1.29)rotate(60)">0</text>
<text transform="translate(946 940)scale(1.668 1.29)rotate(90)">0</text>
<text transform="translate(1510 933)scale(1.668 1.29)rotate(90)">0</text>
<text transform="translate(690 968)scale(1.668 1.29)rotate(90)">0</text>
<text transform="translate(755 971)scale(1.668 1.29)rotate(90)">0</text>
<text transform="translate(1318 976)scale(1.668 1.29)rotate(70)">0</text>
<text transform="translate(660 1013)scale(1.668 1.29)rotate(90)">0</text>
<text transform="translate(711 1028)scale(1.668 1.29)rotate(90)">0</text>
<text transform="translate(1430 1025)scale(1.668 1.29)rotate(90)">0</text>
<text transform="translate(1550 1021)scale(1.668 1.29)rotate(90)">0</text>
<text transform="translate(928 1052)scale(1.668 1.29)rotate(90)">0</text>
<text transform="translate(965 1053)scale(1.668 1.29)rotate(90)">0</text>
<text transform="translate(1288 1040)scale(1.668 1.29)rotate(90)">0</text>
<text transform="translate(740 1093)scale(1.668 1.29)rotate(90)">0</text>
<text transform="translate(830 1120)scale(1.668 1.29)rotate(90)">0</text>
<text transform="translate(1143 1108)scale(1.668 1.29)rotate(90)">0</text>
<text transform="translate(704 1130)scale(1.668 1.29)rotate(90)">0</text>
<text transform="translate(1260 1140)scale(1.668 1.29)rotate(90)">0</text>
<text transform="translate(716 1175)scale(1.668 1.29)rotate(90)">0</text>
<text transform="translate(809 1168)scale(1.668 1.29)rotate(90)">0</text>
<text transform="translate(1178 1175)scale(1.668 1.29)rotate(90)">0</text>
<text transform="translate(1210 1165)scale(1.668 1.29)rotate(90)">0</text>
<text transform="translate(440 1155)scale(1.668 1.29)rotate(90)">0</text>
<text transform="translate(487 1196)scale(1.668 1.29)rotate(90)">0</text>
<text transform="translate(750 1205)scale(1.668 1.29)rotate(90)">0</text>
<text transform="translate(797 1245)scale(1.668 1.29)rotate(60)">0</text>
<text transform="translate(872 1225)scale(1.668 1.29)rotate(90)">0</text>
<text transform="translate(177 1252)scale(1.668 1.29)rotate(90)">0</text>
<text transform="translate(634 1257)scale(1.668 1.29)rotate(90)">0</text>
<text transform="translate(622 1283)scale(1.668 1.29)rotate(90)">0</text>
<text transform="translate(265 1291)scale(1.668 1.29)rotate(90)">0</text>
<text transform="translate(946 1297)scale(1.668 1.29)rotate(90)">0</text>
<text transform="translate(1016 1278)scale(1.668 1.29)rotate(90)">0</text>
<text transform="translate(551 1322)scale(1.668 1.29)rotate(90)">0</text>
<text transform="translate(360 1335)scale(1.668 1.29)rotate(90)">0</text>
<text transform="translate(969 1334)scale(1.668 1.29)rotate(90)">0</text>
<text transform="translate(835 1333)scale(1.668 1.29)rotate(90)">0</text>
<text transform="translate(585 1357)scale(1.668 1.29)rotate(90)">0</text>
<text transform="translate(826 1362)scale(1.668 1.29)rotate(90)">0</text>
<text transform="translate(687 1372)scale(1.668 1.29)rotate(90)">0</text>
<text transform="translate(768 1375)scale(1.668 1.29)rotate(90)">0</text>
<text transform="translate(807 1372)scale(1.668 1.29)rotate(90)">0</text>
<text transform="translate(1130 1362)scale(1.668 1.29)rotate(90)">0</text>
<text transform="translate(497 1398)scale(1.668 1.29)rotate(90)">0</text>
<text transform="translate(632 1428)scale(1.668 1.29)rotate(70)">0</text>
<text transform="translate(409 1432)scale(1.668 1.29)rotate(90)">0</text>
<text transform="translate(768 1460)scale(1.668 1.29)rotate(90)">0</text>
<text transform="translate(918 1458)scale(1.668 1.29)rotate(90)">0</text>
<text transform="translate(1032 1472)scale(1.668 1.29)">0</text>
</g>
</svg>

<!-- ================= PANEL D : bottom-right ATLANTIC diff ================= -->
<svg x="1407" y="1713" width="940" height="1215" viewBox="0 0 1568 1568" preserveAspectRatio="none">
<g clip-path="url(#cpA)">
<rect x="0" y="0" width="1568" height="1568" fill="#00ffc8"/>
<path class="p" fill="#00ff5a" d="M490,-5 L540,-5 L530,60 L500,100 L490,100 Z"/>
<path class="p" fill="#00ff5a" d="M600,60 L640,30 L700,100 L690,300 L680,590 L610,590 L610,300 Z"/>
<path class="p" fill="#00ff5a" d="M760,-5 L1100,-5 L1100,590 L950,590 L940,350 L880,300 L840,200 L800,110 L760,60 Z"/>
<path class="p" fill="#00ffc8" d="M630,-5 L720,-5 L715,70 L650,95 L632,60 Z"/>
<path class="p" fill="#00ffff" d="M1110,-5 L1245,-5 L1240,590 L1110,590 Z"/>
<path class="p" fill="#40d8ff" d="M1140,10 L1170,10 L1172,80 L1145,80 Z"/>
<path class="p" fill="#40d8ff" d="M1200,200 L1230,200 L1235,500 L1205,500 Z"/>
<path class="p" fill="#a0ff00" d="M1265,120 L1300,120 L1310,590 L1275,590 Z"/>
<path class="p" fill="#ffff00" d="M1285,280 L1300,280 L1305,590 L1292,590 Z"/>
<path class="p" fill="#00ff5a" d="M1310,-5 L1580,-5 L1580,590 L1320,590 L1310,300 Z"/>
<path class="p" fill="#00ffc8" d="M1340,-5 L1480,-5 L1460,60 L1380,60 Z"/>
<path class="p" fill="#00ff5a" d="M490,830 L540,820 L600,800 L700,830 L720,1000 L700,1200 L660,1480 L570,1480 L555,1380 L490,1380 Z"/>
<path class="p" fill="#00ff5a" d="M640,600 L780,600 L790,680 L700,690 L650,690 Z"/>
<path class="p" fill="#00ff5a" d="M780,600 L880,600 L1000,620 L1060,700 L1050,800 L1000,900 L900,900 L880,800 L800,700 Z"/>
<path class="p" fill="#00ff5a" d="M1000,900 L1100,900 L1130,1100 L1170,1300 L1120,1480 L1000,1480 L1020,1200 L980,1050 Z"/>
<path class="p" fill="#00ffff" d="M1120,600 L1250,600 L1240,700 L1180,800 L1130,700 Z"/>
<path class="p" fill="#a0ff00" d="M1290,600 L1320,600 L1320,680 L1300,690 Z"/>
<path class="p" fill="#00ff5a" d="M1330,600 L1580,600 L1580,700 L1480,720 L1420,700 L1400,650 Z"/>
<path class="p" fill="#00ff5a" d="M1340,1000 L1580,1000 L1580,1240 L1340,1240 Z"/>
<path class="p" fill="#2aff00" d="M1050,880 L1068,860 L1076,980 L1058,1030 Z"/>
<path class="p" fill="#2aff00" d="M1383,680 L1395,700 L1398,900 L1385,920 Z"/>
<g transform="translate(0 0) scale(1 0.98)"><use href="#zz3" x="640"/><use href="#zz3" x="1100"/><use href="#zz3" x="1125"/><use href="#zz3" x="1245"/><use href="#zz1" x="1160"/><use href="#zz2" x="1190"/></g>
<g transform="translate(0 100) scale(1 0.9175)"><use href="#zz3" x="600"/><use href="#zz3" x="700"/><use href="#zz3" x="780"/><use href="#zz3" x="850"/><use href="#zz1" x="720"/><use href="#zz1" x="1000"/><use href="#zz1" x="1200"/><use href="#zz1" x="1270"/><use href="#zz1" x="1310"/><use href="#zz2" x="1230"/></g>
<g transform="translate(0 200) scale(1 0.855)"><use href="#zz1" x="770"/></g>
<g transform="translate(0 300) scale(1 0.7925)"><use href="#zz3" x="950"/><use href="#zz3" x="1420"/><use href="#zz3" x="1500"/><use href="#zz1" x="740"/><use href="#zz2" x="760"/><use href="#zz2" x="1255"/></g>
<g transform="translate(0 400) scale(1 0.73)"><use href="#zz1" x="660"/><use href="#zz1" x="830"/><use href="#zz2" x="680"/></g>
<g transform="translate(0 600) scale(1 0.605)"><use href="#zz2" x="880"/></g>
<g transform="translate(0 700) scale(1 0.5425)"><use href="#zz1" x="1040"/><use href="#zz1" x="600"/></g>
<g transform="translate(0 900) scale(1 0.4175)"><use href="#zz2" x="900"/><use href="#zz2" x="1140"/></g>
<g transform="translate(0 1000) scale(1 0.355)"><use href="#zz2" x="620"/></g>
<g transform="translate(0 1100) scale(1 0.2925)"><use href="#zz2" x="540"/></g>
</g>
<g class="z">
<text transform="translate(645 13)scale(1.668 1.29)rotate(90)">0</text>
<text transform="translate(787 40)scale(1.668 1.29)rotate(90)">0</text>
<text transform="translate(925 38)scale(1.668 1.29)rotate(90)">0</text>
<text transform="translate(960 30)scale(1.668 1.29)rotate(90)">0</text>
<text transform="translate(1054 22)scale(1.668 1.29)rotate(90)">0</text>
<text transform="translate(1234 22)scale(1.668 1.29)rotate(90)">0</text>
<text transform="translate(1368 18)scale(1.668 1.29)rotate(80)">0</text>
<text transform="translate(1444 51)scale(1.668 1.29)rotate(70)">0</text>
<text transform="translate(746 58)scale(1.668 1.29)rotate(70)">0</text>
<text transform="translate(1011 86)scale(1.668 1.29)">0</text>
<text transform="translate(603 212)scale(1.668 1.29)rotate(90)">0</text>
<text transform="translate(720 235)scale(1.668 1.29)rotate(90)">0</text>
<text transform="translate(738 247)scale(1.668 1.29)rotate(90)">0</text>
<text transform="translate(1084 245)scale(1.668 1.29)rotate(90)">0</text>
<text transform="translate(1117 247)scale(1.668 1.29)rotate(90)">0</text>
<text transform="translate(1322 214)scale(1.668 1.29)rotate(90)">0</text>
<text transform="translate(832 297)scale(1.668 1.29)rotate(70)">0</text>
<text transform="translate(945 293)scale(1.668 1.29)rotate(90)">0</text>
<text transform="translate(670 320)scale(1.668 1.29)rotate(80)">0</text>
<text transform="translate(790 331)scale(1.668 1.29)rotate(90)">0</text>
<text transform="translate(810 322)scale(1.668 1.29)rotate(90)">0</text>
<text transform="translate(1307 288)scale(1.668 1.29)rotate(90)">0</text>
<text transform="translate(1555 262)scale(1.668 1.29)rotate(30)">0</text>
<text transform="translate(574 375)scale(1.668 1.29)rotate(90)">0</text>
<text transform="translate(1022 360)scale(1.668 1.29)rotate(90)">0</text>
<text transform="translate(1094 351)scale(1.668 1.29)rotate(90)">0</text>
<text transform="translate(1432 359)scale(1.668 1.29)rotate(90)">0</text>
<text transform="translate(1252 354)scale(1.668 1.29)rotate(90)">0</text>
<text transform="translate(1250 382)scale(1.668 1.29)rotate(90)">0</text>
<text transform="translate(1272 383)scale(1.668 1.29)rotate(90)">0</text>
<text transform="translate(1378 387)scale(1.668 1.29)rotate(90)">0</text>
<text transform="translate(883 427)scale(1.668 1.29)rotate(90)">0</text>
<text transform="translate(737 498)scale(1.668 1.29)rotate(90)">0</text>
<text transform="translate(848 491)scale(1.668 1.29)rotate(90)">0</text>
<text transform="translate(920 485)scale(1.668 1.29)rotate(90)">0</text>
<text transform="translate(1325 505)scale(1.668 1.29)rotate(90)">0</text>
<text transform="translate(1030 535)scale(1.668 1.29)rotate(90)">0</text>
<text transform="translate(789 555)scale(1.668 1.29)rotate(90)">0</text>
<text transform="translate(1397 560)scale(1.668 1.29)rotate(90)">0</text>
<text transform="translate(1200 230)scale(1.668 1.29)rotate(90)">-1</text>
<text transform="translate(1240 245)scale(1.668 1.29)rotate(90)">-1</text>
<text transform="translate(1150 313)scale(1.668 1.29)rotate(90)">-1</text>
<text transform="translate(1150 540)scale(1.668 1.29)rotate(90)">-1</text>
<text transform="translate(1418 620)scale(1.668 1.29)rotate(90)">0</text>
<text transform="translate(905 631)scale(1.668 1.29)rotate(90)">0</text>
<text transform="translate(718 653)scale(1.668 1.29)rotate(90)">0</text>
<text transform="translate(602 679)scale(1.668 1.29)rotate(90)">0</text>
<text transform="translate(1012 701)scale(1.668 1.29)rotate(90)">0</text>
<text transform="translate(1269 692)scale(1.668 1.29)rotate(90)">0</text>
<text transform="translate(1335 720)scale(1.668 1.29)rotate(90)">0</text>
<text transform="translate(1080 740)scale(1.668 1.29)rotate(90)">0</text>
<text transform="translate(1194 773)scale(1.668 1.29)rotate(90)">0</text>
<text transform="translate(1262 789)scale(1.668 1.29)rotate(90)">0</text>
<text transform="translate(1518 790)scale(1.668 1.29)rotate(90)">0</text>
<text transform="translate(1556 760)scale(1.668 1.29)rotate(90)">0</text>
<text transform="translate(620 803)scale(1.668 1.29)rotate(90)">0</text>
<text transform="translate(868 800)scale(1.668 1.29)rotate(90)">0</text>
<text transform="translate(770 822)scale(1.668 1.29)rotate(90)">0</text>
<text transform="translate(792 822)scale(1.668 1.29)rotate(90)">0</text>
<text transform="translate(1142 813)scale(1.668 1.29)rotate(90)">0</text>
<text transform="translate(535 850)scale(1.668 1.29)rotate(50)">0</text>
<text transform="translate(643 836)scale(1.668 1.29)">0</text>
<text transform="translate(1474 843)scale(1.668 1.29)rotate(90)">0</text>
<text transform="translate(577 872)scale(1.668 1.29)rotate(90)">0</text>
<text transform="translate(668 888)scale(1.668 1.29)rotate(90)">0</text>
<text transform="translate(1302 880)scale(1.668 1.29)rotate(90)">0</text>
<text transform="translate(1149 898)scale(1.668 1.29)rotate(90)">0</text>
<text transform="translate(1010 903)scale(1.668 1.29)rotate(90)">0</text>
<text transform="translate(949 910)scale(1.668 1.29)rotate(90)">0</text>
<text transform="translate(907 930)scale(1.668 1.29)rotate(40)">0</text>
<text transform="translate(957 958)scale(1.668 1.29)rotate(90)">0</text>
<text transform="translate(1507 933)scale(1.668 1.29)rotate(90)">0</text>
<text transform="translate(713 982)scale(1.668 1.29)rotate(90)">0</text>
<text transform="translate(1315 975)scale(1.668 1.29)rotate(40)">0</text>
<text transform="translate(745 1044)scale(1.668 1.29)rotate(90)">0</text>
<text transform="translate(1430 1025)scale(1.668 1.29)rotate(90)">0</text>
<text transform="translate(1550 1021)scale(1.668 1.29)rotate(90)">0</text>
<text transform="translate(781 1084)scale(1.668 1.29)rotate(90)">0</text>
<text transform="translate(830 1112)scale(1.668 1.29)rotate(90)">0</text>
<text transform="translate(604 1104)scale(1.668 1.29)rotate(90)">0</text>
<text transform="translate(724 1165)scale(1.668 1.29)rotate(90)">0</text>
<text transform="translate(770 1178)scale(1.668 1.29)rotate(90)">0</text>
<text transform="translate(856 1181)scale(1.668 1.29)rotate(90)">0</text>
<text transform="translate(1155 1170)scale(1.668 1.29)rotate(90)">0</text>
<text transform="translate(1185 1168)scale(1.668 1.29)rotate(90)">0</text>
<text transform="translate(1208 1163)scale(1.668 1.29)rotate(90)">0</text>
<text transform="translate(533 1188)scale(1.668 1.29)rotate(90)">0</text>
<text transform="translate(808 1211)scale(1.668 1.29)rotate(90)">0</text>
<text transform="translate(658 1225)scale(1.668 1.29)rotate(90)">0</text>
<text transform="translate(1010 1254)scale(1.668 1.29)rotate(80)">0</text>
<text transform="translate(938 1256)scale(1.668 1.29)rotate(90)">0</text>
<text transform="translate(514 1248)scale(1.668 1.29)rotate(90)">0</text>
<text transform="translate(683 1262)scale(1.668 1.29)rotate(90)">0</text>
<text transform="translate(770 1271)scale(1.668 1.29)rotate(90)">0</text>
<text transform="translate(883 1273)scale(1.668 1.29)rotate(90)">0</text>
<text transform="translate(701 1316)scale(1.668 1.29)rotate(90)">0</text>
<text transform="translate(585 1318)scale(1.668 1.29)rotate(90)">0</text>
<text transform="translate(565 1348)scale(1.668 1.29)rotate(90)">0</text>
<text transform="translate(577 1459)scale(1.668 1.29)rotate(90)">0</text>
<text transform="translate(669 1453)scale(1.668 1.29)rotate(90)">0</text>
<text transform="translate(905 1457)scale(1.668 1.29)rotate(90)">0</text>
<text transform="translate(940 1446)scale(1.668 1.29)rotate(90)">0</text>
<text transform="translate(958 1458)scale(1.668 1.29)rotate(90)">0</text>
<text transform="translate(1037 1445)scale(1.668 1.29)rotate(90)">0</text>
</g>
</svg>

<!-- ================= FRAMES & TICKS ================= -->
<g fill="none" stroke="#000" stroke-width="4">
<rect x="329" y="377" width="940" height="447"/>
<rect x="329" y="847" width="940" height="745"/>
<rect x="1407" y="377" width="939" height="447"/>
<rect x="1407" y="847" width="939" height="745"/>
<rect x="329" y="1713" width="940" height="447"/>
<rect x="329" y="2183" width="940" height="745"/>
<rect x="1407" y="1713" width="939" height="447"/>
<rect x="1407" y="2183" width="939" height="745"/>
</g>
<g stroke="#000" stroke-width="3">
<path d="M329,591.5h24M329,806h24M329,990h24M329,1141h24M329,1291h24M329,1441h24"/>
<path d="M1407,591.5h24M1407,806h24M1407,990h24M1407,1141h24M1407,1291h24M1407,1441h24"/>
<path d="M329,1927.5h24M329,2142h24M329,2326h24M329,2477h24M329,2627h24M329,2777h24"/>
<path d="M1407,1927.5h24M1407,2142h24M1407,2326h24M1407,2477h24M1407,2627h24M1407,2777h24"/>
<path d="M486,1592v-29M642,1592v-29M798,1592v-29M955,1592v-29M1112,1592v-29"/>
<path d="M1564,1592v-29M1720,1592v-29M1877,1592v-29M2033,1592v-29M2190,1592v-29"/>
<path d="M486,2928v-29M642,2928v-29M798,2928v-29M955,2928v-29M1112,2928v-29"/>
<path d="M1564,2928v-29M1720,2928v-29M1877,2928v-29M2033,2928v-29M2190,2928v-29"/>
</g>

<!-- ================= TEXT ================= -->
<g class="t" font-size="54">
<text x="327" y="340">E-I MOCf09.B-SSP370.ss30 [2071-2100]</text>
<text x="327" y="1676">f09.B-SSP370.ss30 [2071-2100] - f09.B-hist.tn15.cmip6.k32 [1985-2014]</text>
<g text-anchor="end">
<text x="296" y="396">0.0</text>
<text x="296" y="611">0.5</text>
<text x="296" y="825">1.0</text>
<text x="296" y="1009">2.0</text>
<text x="296" y="1160">3.0</text>
<text x="296" y="1310">4.0</text>
<text x="296" y="1460">5.0</text>
<text x="296" y="1611">6.0</text>
<text x="296" y="1732">0.0</text>
<text x="296" y="1947">0.5</text>
<text x="296" y="2161">1.0</text>
<text x="296" y="2345">2.0</text>
<text x="296" y="2496">3.0</text>
<text x="296" y="2646">4.0</text>
<text x="296" y="2796">5.0</text>
<text x="296" y="2947">6.0</text>
</g>
<text transform="translate(197 958) rotate(-90)" text-anchor="middle">DEPTH (km)</text>
<text transform="translate(197 2294) rotate(-90)" text-anchor="middle">DEPTH (km)</text>
<g text-anchor="middle">
<text x="329" y="3013">90°S</text>
<text x="486" y="3013">60°S</text>
<text x="642" y="3013">30°S</text>
<text x="798" y="3013">0°</text>
<text x="955" y="3013">30°N</text>
<text x="1112" y="3013">60°N</text>
<text x="1269" y="3013">90°N</text>
<text x="1407" y="3013">90°S</text>
<text x="1564" y="3013">60°S</text>
<text x="1720" y="3013">30°S</text>
<text x="1877" y="3013">0°</text>
<text x="2033" y="3013">30°N</text>
<text x="2190" y="3013">60°N</text>
<text x="2346" y="3013">90°N</text>
</g>
</g>
<g class="t" font-size="45">
<text x="356" y="1556">GLOBAL</text>
<text x="1434" y="1556">ATLANTIC</text>
<text x="356" y="2892">GLOBAL</text>
<text x="1434" y="2892">ATLANTIC</text>
</g>
</svg>
</body></html>
